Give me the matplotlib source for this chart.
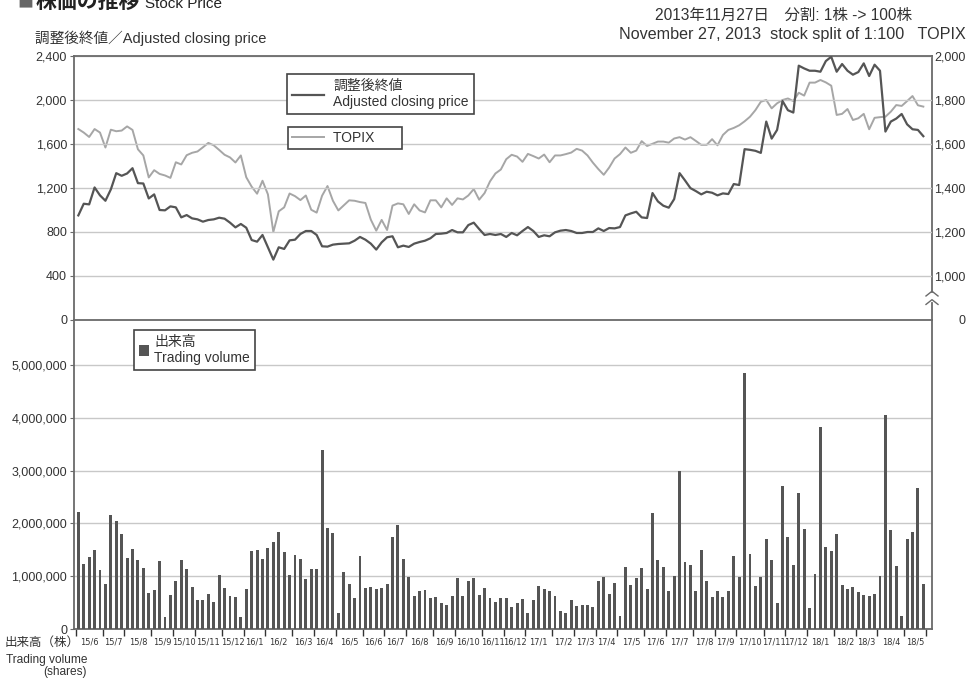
import matplotlib
matplotlib.use("Agg")
import matplotlib.pyplot as plt
from matplotlib.patches import Patch
from matplotlib.lines import Line2D
from matplotlib.ticker import FuncFormatter, FixedLocator
import pandas as pd

plt.rcParams['font.family'] = ['Liberation Sans', 'Noto Sans CJK JP', 'DejaVu Sans']

# weekly data, week starting Monday
weeks = pd.date_range("2015-06-01", "2018-05-28", freq="W-MON")

# adjusted closing price (yen)
price = [951, 1057, 1051, 1205, 1133, 1084, 1187, 1335, 1311, 1332, 1380, 1244, 1241, 1105, 1142, 1000,
         997, 1033, 1024, 933, 954, 924, 915, 894, 909, 915, 930, 921, 885, 842, 873, 839,
         727, 712, 773, 661, 549, 661, 646, 724, 730, 782, 809, 809, 773, 670, 667, 685,
         691, 694, 697, 721, 755, 730, 694, 640, 706, 752, 761, 661, 676, 664, 694, 709,
         721, 743, 782, 785, 791, 818, 797, 797, 863, 885, 827, 773, 782, 773, 782, 755,
         791, 770, 809, 845, 809, 755, 770, 761, 797, 812, 818, 809, 791, 791, 800, 800,
         833, 809, 836, 833, 845, 951, 969, 984, 933, 927, 1154, 1078, 1039, 1021, 1099, 1335,
         1269, 1199, 1172, 1142, 1166, 1157, 1133, 1151, 1145, 1236, 1227, 1553, 1547, 1538, 1519, 1804,
         1649, 1728, 1991, 1907, 1886, 2312, 2287, 2266, 2266, 2257, 2354, 2393, 2257, 2327, 2266, 2230,
         2254, 2333, 2218, 2321, 2266, 1713, 1804, 1831, 1873, 1779, 1734, 1728, 1671]

# TOPIX close
topix = [1668, 1652, 1632, 1668, 1652, 1584, 1665, 1658, 1661, 1680, 1664, 1576, 1548, 1448, 1481, 1464,
         1457, 1446, 1517, 1507, 1549, 1560, 1566, 1585, 1605, 1594, 1573, 1551, 1539, 1516, 1548, 1449,
         1406, 1374, 1433, 1371, 1200, 1294, 1312, 1375, 1363, 1345, 1366, 1301, 1288, 1365, 1409, 1342,
         1298, 1321, 1344, 1342, 1336, 1332, 1256, 1206, 1255, 1209, 1320, 1330, 1326, 1282, 1326, 1298,
         1289, 1344, 1344, 1312, 1353, 1323, 1353, 1348, 1366, 1395, 1347, 1377, 1430, 1466, 1484, 1531,
         1551, 1543, 1519, 1555, 1545, 1534, 1552, 1517, 1548, 1548, 1554, 1561, 1578, 1570, 1548, 1515,
         1486, 1460, 1493, 1534, 1554, 1584, 1560, 1570, 1613, 1591, 1601, 1611, 1611, 1606, 1625, 1631,
         1620, 1631, 1614, 1596, 1596, 1622, 1594, 1641, 1664, 1673, 1685, 1703, 1724, 1754, 1792, 1800,
         1762, 1785, 1800, 1807, 1795, 1833, 1820, 1879, 1879, 1891, 1880, 1865, 1732, 1737, 1759, 1709,
         1717, 1737, 1667, 1719, 1722, 1724, 1747, 1777, 1773, 1795, 1818, 1776, 1770]

# trading volume (million shares)
volume_m = [2.22, 1.24, 1.37, 1.49, 1.11, 0.86, 2.15, 2.04, 1.79, 1.34, 1.51, 1.30, 1.15, 0.69, 0.73, 1.28,
            0.23, 0.65, 0.90, 1.30, 1.13, 0.80, 0.54, 0.54, 0.67, 0.52, 1.03, 0.77, 0.63, 0.61, 0.23, 0.75,
            1.47, 1.49, 1.32, 1.54, 1.64, 1.83, 1.45, 1.03, 1.41, 1.32, 0.94, 1.13, 1.13, 3.39, 1.92, 1.81,
            0.31, 1.07, 0.86, 0.59, 1.39, 0.77, 0.80, 0.75, 0.78, 0.86, 1.75, 1.96, 1.32, 0.99, 0.63, 0.71,
            0.73, 0.59, 0.61, 0.50, 0.46, 0.63, 0.97, 0.63, 0.90, 0.96, 0.65, 0.78, 0.58, 0.52, 0.58, 0.59,
            0.42, 0.50, 0.56, 0.31, 0.54, 0.82, 0.75, 0.71, 0.63, 0.35, 0.31, 0.54, 0.44, 0.46, 0.46, 0.42,
            0.90, 0.99, 0.67, 0.88, 0.25, 1.18, 0.84, 0.96, 1.15, 0.75, 2.19, 1.30, 1.17, 0.72, 1.00, 3.00,
            1.26, 1.21, 0.72, 1.49, 0.91, 0.60, 0.72, 0.60, 0.72, 1.38, 0.98, 4.85, 1.42, 0.81, 0.98, 1.70,
            1.30, 0.49, 2.70, 1.74, 1.21, 2.57, 1.89, 0.40, 1.04, 3.83, 1.55, 1.47, 1.79, 0.83, 0.75, 0.79,
            0.70, 0.64, 0.62, 0.66, 1.00, 4.06, 1.87, 1.19, 0.25, 1.70, 1.83, 2.66, 0.85]

dark = '#555555'
light = '#a6a6a6'
grid_c = '#c8c8c8'
spine_c = '#6a6a6a'
text_c = '#333333'
num_font = 'Liberation Sans'

x = list(range(len(weeks)))
volume = [v * 1e6 for v in volume_m]

# month boundaries (tick) and month centres (label)
starts = [i for i in range(len(weeks)) if i == 0 or weeks[i].month != weeks[i - 1].month]
bounds = [i - 0.5 for i in starts] + [len(weeks) - 0.5]
centers = [(a + b) / 2 for a, b in zip(bounds[:-1], bounds[1:])]
month_labels = [f"{weeks[i].year % 100}/{weeks[i].month}" for i in starts]

W, H = 968, 680
fig = plt.figure(figsize=(W / 100, H / 100), dpi=100)
fig.patch.set_facecolor('white')

L, R = 74, 932
ax = fig.add_axes([L / W, 1 - 320 / H, (R - L) / W, (320 - 56) / H])
axv = fig.add_axes([L / W, 1 - 629 / H, (R - L) / W, (629 - 320) / H])
ax2 = ax.twinx()

xlim = (-0.8, 157.6)

# ---- price panel ----
ax.plot(x, price, color=dark, lw=1.6, zorder=3)
ax2.plot(x, topix, color=light, lw=1.4, zorder=2)
ax.set_zorder(ax2.get_zorder() + 1)
ax.patch.set_visible(False)

ax.set_xlim(*xlim)
ax.set_ylim(0, 2400)
ax2.set_ylim(800, 2000)
ax.set_yticks(range(0, 2401, 400))
ax.yaxis.set_major_formatter(FuncFormatter(lambda v, p: f"{v:,.0f}"))
ax.grid(axis='y', color=grid_c, lw=1.0)
ax.set_axisbelow(True)
ax.set_xticks([])

ax2.set_yticks([800, 1000, 1200, 1400, 1600, 1800, 2000])
ax2.set_yticklabels(['0', '1,000', '1,200', '1,400', '1,600', '1,800', '2,000'])
ax2.tick_params(axis='y', length=0, pad=24, labelsize=9, labelcolor=text_c,
                labelfontfamily=num_font)
for lab in ax2.get_yticklabels():
    lab.set_ha('right')

ax.tick_params(axis='y', length=3, color=spine_c, labelsize=9, labelcolor=text_c, pad=2,
               labelfontfamily=num_font)

for s in ['left', 'top', 'bottom']:
    ax.spines[s].set_color(spine_c)
    ax.spines[s].set_linewidth(1.3)
ax.spines['right'].set_visible(False)
for s in ['left', 'top', 'bottom']:
    ax2.spines[s].set_visible(False)
ax2.spines['right'].set_color(spine_c)
ax2.spines['right'].set_linewidth(1.3)
ax2.spines['right'].set_bounds(927, 2000)

# lower part of right axis + break marks
ax2.plot([1, 1], [0, 0.064], transform=ax2.transAxes, color=spine_c, lw=1.3, clip_on=False)
for yb in (0.103, 0.071):
    ax2.plot([0.993, 1.0, 1.007], [yb - 0.012, yb + 0.006, yb - 0.012], transform=ax2.transAxes,
             color=spine_c, lw=1.0, clip_on=False)

leg1 = ax.legend([Line2D([], [], color=dark, lw=1.6)], ['調整後終値\nAdjusted closing price'],
                 loc='upper left', bbox_to_anchor=(0.248, 0.932), borderaxespad=0,
                 fancybox=False, edgecolor='#444444', framealpha=1, handlelength=2.3,
                 handletextpad=0.7, borderpad=0.35, prop={'size': 10})
leg1.get_frame().set_linewidth(1.2)
for t in leg1.get_texts():
    t.set_color(text_c)
ax.add_artist(leg1)
leg2 = ax.legend([Line2D([], [], color=light, lw=1.4)], ['TOPIX' + ' ' * 6],
                 loc='upper left', bbox_to_anchor=(0.249, 0.731), borderaxespad=0,
                 fancybox=False, edgecolor='#444444', framealpha=1, handlelength=2.3,
                 handletextpad=0.7, borderpad=0.3, prop={'size': 10})
leg2.get_frame().set_linewidth(1.2)
for t in leg2.get_texts():
    t.set_color(text_c)

# ---- volume panel ----
axv.bar(x, volume, width=0.55, color=dark, zorder=3)
axv.set_xlim(*xlim)
axv.set_ylim(0, 5.85e6)
axv.set_yticks([i * 1e6 for i in range(6)])
axv.yaxis.set_major_formatter(FuncFormatter(lambda v, p: f"{v:,.0f}"))
axv.grid(axis='y', color=grid_c, lw=1.0)
axv.set_axisbelow(True)
axv.tick_params(axis='y', length=3, color=spine_c, labelsize=9, labelcolor=text_c, pad=2,
                labelfontfamily=num_font)

axv.xaxis.set_major_locator(FixedLocator(bounds))
axv.xaxis.set_minor_locator(FixedLocator(centers))
axv.set_xticklabels([], minor=False)
axv.set_xticklabels(month_labels, minor=True, fontstretch='condensed')
axv.tick_params(axis='x', which='major', length=5, width=1.0, color='#333333')
axv.tick_params(axis='x', which='minor', length=0, pad=6, labelsize=6.6, labelcolor=text_c,
                labelfontfamily='DejaVu Sans')

axv.spines['top'].set_visible(False)
for s in ['left', 'right', 'bottom']:
    axv.spines[s].set_color(spine_c)
    axv.spines[s].set_linewidth(1.3)

leg3 = axv.legend([Patch(facecolor=dark, edgecolor='none')], ['出来高\nTrading volume'],
                  loc='upper left', bbox_to_anchor=(0.070, 0.968), borderaxespad=0,
                  fancybox=False, edgecolor='#444444', framealpha=1, handlelength=0.7,
                  handleheight=0.9, handletextpad=0.4, borderpad=0.35, prop={'size': 10})
leg3.get_frame().set_linewidth(1.2)
for t in leg3.get_texts():
    t.set_color(text_c)

# ---- header and captions ----
fig.text(17 / W, 1 - 1 / H, '■', fontsize=19, color='#666666', va='center', ha='left')
fig.text(36 / W, 1 - 2 / H, '株価の推移', fontsize=15, fontweight='bold', color='#222222',
         va='center', ha='left')
fig.text(145 / W, 1 - 4 / H, 'Stock Price', fontsize=11, color='#222222', va='center', ha='left')
fig.text(35 / W, 1 - 38 / H, '調整後終値／Adjusted closing price', fontsize=10.5, color=text_c,
         va='center', ha='left')
fig.text(912 / W, 1 - 15 / H, '2013年11月27日　分割: 1株 -> 100株', fontsize=11.2, color=text_c,
         va='center', ha='right')
fig.text(966 / W, 1 - 35 / H, 'November 27, 2013  stock split of 1:100   TOPIX', fontsize=11.6,
         color=text_c, va='center', ha='right')
fig.text(5 / W, 1 - 643 / H, '出来高（株）', fontsize=9, color=text_c, va='center', ha='left')
fig.text(87 / W, 1 - 654 / H, 'Trading volume\n(shares)', fontsize=8.6, color=text_c,
         va='top', ha='right', multialignment='right', linespacing=1.0)

fig.savefig('out.png', dpi=100, facecolor='white')
